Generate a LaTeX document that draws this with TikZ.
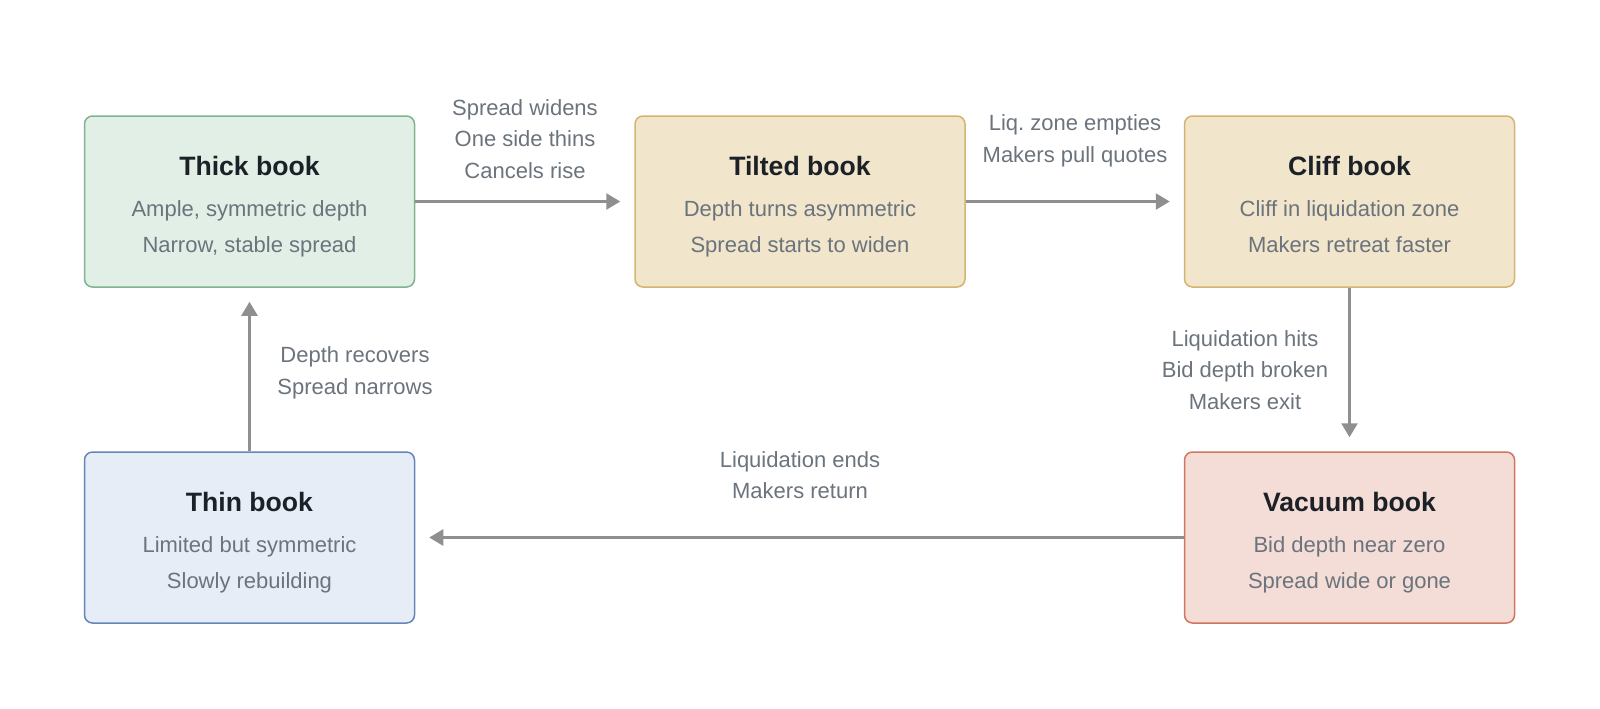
\documentclass[tikz,border=0pt]{standalone}
\usepackage{fontspec}
\setmainfont{Liberation Sans}
\usetikzlibrary{arrows.meta}
\definecolor{ink}{HTML}{1C2128}
\definecolor{mute}{HTML}{6B737C}
\definecolor{wire}{HTML}{8F8F8F}
\definecolor{greenfill}{HTML}{E1EFE7}
\definecolor{greenline}{HTML}{7FB48F}
\definecolor{amberfill}{HTML}{F1E5CB}
\definecolor{amberline}{HTML}{D4B46E}
\definecolor{bluefill}{HTML}{E6EDF6}
\definecolor{blueline}{HTML}{6686BA}
\definecolor{redfill}{HTML}{F4DDD6}
\definecolor{redline}{HTML}{CF7660}
\newcommand{\booktitle}[1]{{\fontsize{13.3}{16}\bfseries\color{ink}\rule{0pt}{15.5pt}#1}\\[2.5pt]}
\newcommand{\bookend}{\rule[-3pt]{0pt}{3pt}}
\begin{document}
\begin{tikzpicture}[x=0.5pt,y=-0.5pt,shorten >=7pt]
	\def \rowoneht{201.5}
	\def \rowtwoht{537.5}
	\def \colone{249.5}
	\def \coltwo{800}
	\def \colthree{1349.5}
	\tikzstyle{book-node}=[rectangle,rounded corners=4pt,line width=0.75pt,minimum width=165pt,minimum height=85.5pt,align=center,text=mute,font=\fontsize{11}{18}\selectfont]
	\tikzstyle{g-node}=[book-node,fill=greenfill,draw=greenline]
	\tikzstyle{a-node}=[book-node,fill=amberfill,draw=amberline]
	\tikzstyle{b-node}=[book-node,fill=bluefill,draw=blueline]
	\tikzstyle{r-node}=[book-node,fill=redfill,draw=redline]
	\tikzstyle{annot}=[align=center,text=mute,font=\fontsize{11}{15.75}\selectfont]
	\tikzstyle{trans}=[color=wire,line width=1.25pt,-{Triangle[length=7pt,width=8pt]}]
	\useasboundingbox (0,0) rectangle (1600,708);

	% top row
	\node[g-node] 	(thick)		at (\colone,\rowoneht)		{\booktitle{Thick book}Ample, symmetric depth\\Narrow, stable spread\bookend};
	\node[a-node] 	(tilted)	at (\coltwo,\rowoneht)		{\booktitle{Tilted book}Depth turns asymmetric\\Spread starts to widen\bookend};
	\node[a-node] 	(cliff)		at (\colthree,\rowoneht)	{\booktitle{Cliff book}Cliff in liquidation zone\\Makers retreat faster\bookend};

	% bottom row
	\node[b-node] 	(thin)		at (\colone,\rowtwoht)		{\booktitle{Thin book}Limited but symmetric\\Slowly rebuilding\bookend};
	\node[r-node] 	(vacuum)	at (\colthree,\rowtwoht)	{\booktitle{Vacuum book}Bid depth near zero\\Spread wide or gone\bookend};

	% labels
	\node[annot] 	(widens)	at (525,139)	{Spread widens\\One side thins\\Cancels rise};
	\node[annot] 	(empties)	at (1075,141)	{Liq.\ zone empties\\Makers pull quotes};
	\node[annot] 	(hits)		at (1245,370)	{Liquidation hits\\Bid depth broken\\Makers exit};
	\node[annot] 	(ends)		at (800,475)	{Liquidation ends\\Makers return};
	\node[annot] 	(recovers)	at (355,373)	{Depth recovers\\Spread narrows};

	\path[trans]
		(thick)		edge	(tilted)
		(tilted)	edge	(cliff)
		(cliff)		edge	(vacuum)
		(vacuum)	edge	(thin)
		(thin)		edge	(thick);
\end{tikzpicture}
\end{document}
